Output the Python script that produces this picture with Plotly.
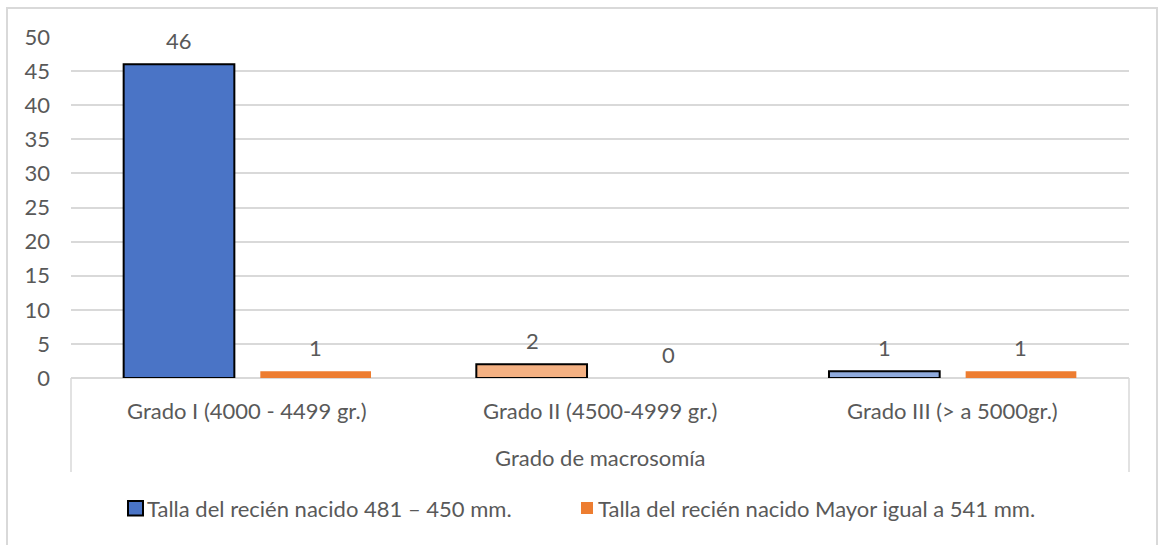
import plotly.graph_objects as go

# Chart data
categorias = ["Grado I (4000 - 4499 gr.)", "Grado II (4500-4999 gr.)", "Grado III (> a 5000gr.)"]
serie_481_450 = [46, 2, 1]
serie_mayor_541 = [1, 0, 1]
nombres_series = ["Talla del recién nacido 481 – 450 mm.",
                  "Talla del recién nacido Mayor igual a 541 mm."]
titulo_eje_x = "Grado de macrosomía"
ticks_y = [0, 5, 10, 15, 20, 25, 30, 35, 40, 45, 50]

FONT = "Lato"
FS = 22
GRIS_TEXTO = "#595959"
GRIS_LINEA = "#d9d9d9"
colores_serie1 = ["#4a74c6", "#f4b183", "#8faadc"]
color_serie2 = "#ed7d31"

fig = go.Figure()
fig.add_trace(go.Bar(
    x=categorias, y=serie_481_450, name=nombres_series[0],
    marker=dict(color=colores_serie1, line=dict(color="black", width=2)),
    showlegend=False,
))
fig.add_trace(go.Bar(
    x=categorias, y=serie_mayor_541, name=nombres_series[1],
    marker=dict(color=color_serie2, line=dict(width=0)),
    showlegend=False,
))

# value labels above each bar
desplaz = 68
for cat, v in zip(categorias, serie_481_450):
    fig.add_annotation(x=cat, y=v, xref="x", yref="y", text=str(v), showarrow=False,
                       xshift=-desplaz, yshift=24, yanchor="middle",
                       font=dict(family=FONT, size=FS, color=GRIS_TEXTO))
for cat, v in zip(categorias, serie_mayor_541):
    fig.add_annotation(x=cat, y=v, xref="x", yref="y", text=str(v), showarrow=False,
                       xshift=desplaz, yshift=24, yanchor="middle",
                       font=dict(family=FONT, size=FS, color=GRIS_TEXTO))

# category labels and axis title
for cat in categorias:
    fig.add_annotation(x=cat, y=0, xref="x", yref="paper", text=cat, showarrow=False,
                       yshift=-32, yanchor="middle",
                       font=dict(family=FONT, size=FS, color=GRIS_TEXTO))
fig.add_annotation(x=0.5, y=0, xref="paper", yref="paper", text=titulo_eje_x,
                   showarrow=False, yshift=-79, yanchor="middle",
                   font=dict(family=FONT, size=FS, color=GRIS_TEXTO))

# legend
fig.add_shape(type="rect", xref="paper", yref="paper",
              x0=(128 - 71) / 1058, x1=(143 - 71) / 1058,
              y0=-(515.5 - 378) / 341, y1=-(501 - 378) / 341,
              fillcolor=colores_serie1[0], line=dict(color="black", width=2))
fig.add_annotation(x=(145 - 71) / 1058, y=-(508 - 378) / 341, xref="paper", yref="paper",
                   text=nombres_series[0], showarrow=False, xanchor="left", yanchor="middle",
                   font=dict(family=FONT, size=FS, color=GRIS_TEXTO))
fig.add_shape(type="rect", xref="paper", yref="paper",
              x0=(581 - 71) / 1058, x1=(593 - 71) / 1058,
              y0=-(514 - 378) / 341, y1=-(502 - 378) / 341,
              fillcolor=color_serie2, line=dict(width=0))
fig.add_annotation(x=(596 - 71) / 1058, y=-(508 - 378) / 341, xref="paper", yref="paper",
                   text=nombres_series[1], showarrow=False, xanchor="left", yanchor="middle",
                   font=dict(family=FONT, size=FS, color=GRIS_TEXTO))

# category axis frame
for xp in (0, 1):
    fig.add_shape(type="line", xref="paper", yref="paper", x0=xp, x1=xp,
                  y0=0, y1=-(472 - 378) / 341, line=dict(color=GRIS_LINEA, width=1.5))

# outer chart border
fig.add_shape(type="rect", xref="paper", yref="paper",
              x0=(7 - 71) / 1058, x1=(1157 - 71) / 1058,
              y0=-(560 - 378) / 341, y1=(378 - 8) / 341,
              line=dict(color=GRIS_LINEA, width=2), fillcolor="rgba(0,0,0,0)")

fig.update_layout(
    width=1159, height=545,
    margin=dict(l=71, r=30, t=37, b=167),
    paper_bgcolor="white", plot_bgcolor="white",
    bargap=0.225, bargroupgap=0.19, barmode="group",
    font=dict(family=FONT, size=FS, color=GRIS_TEXTO),
)
fig.update_xaxes(showticklabels=False, showgrid=False, zeroline=False, showline=False,
                 ticks="")
fig.update_yaxes(range=[0, 50], tickvals=ticks_y, showgrid=True, gridcolor=GRIS_LINEA,
                 gridwidth=1.5, zeroline=True, zerolinecolor=GRIS_LINEA, zerolinewidth=1.5,
                 showline=False, ticks="", ticklabelstandoff=20,
                 tickfont=dict(family=FONT, size=FS, color=GRIS_TEXTO))

fig.write_html("out.html")
